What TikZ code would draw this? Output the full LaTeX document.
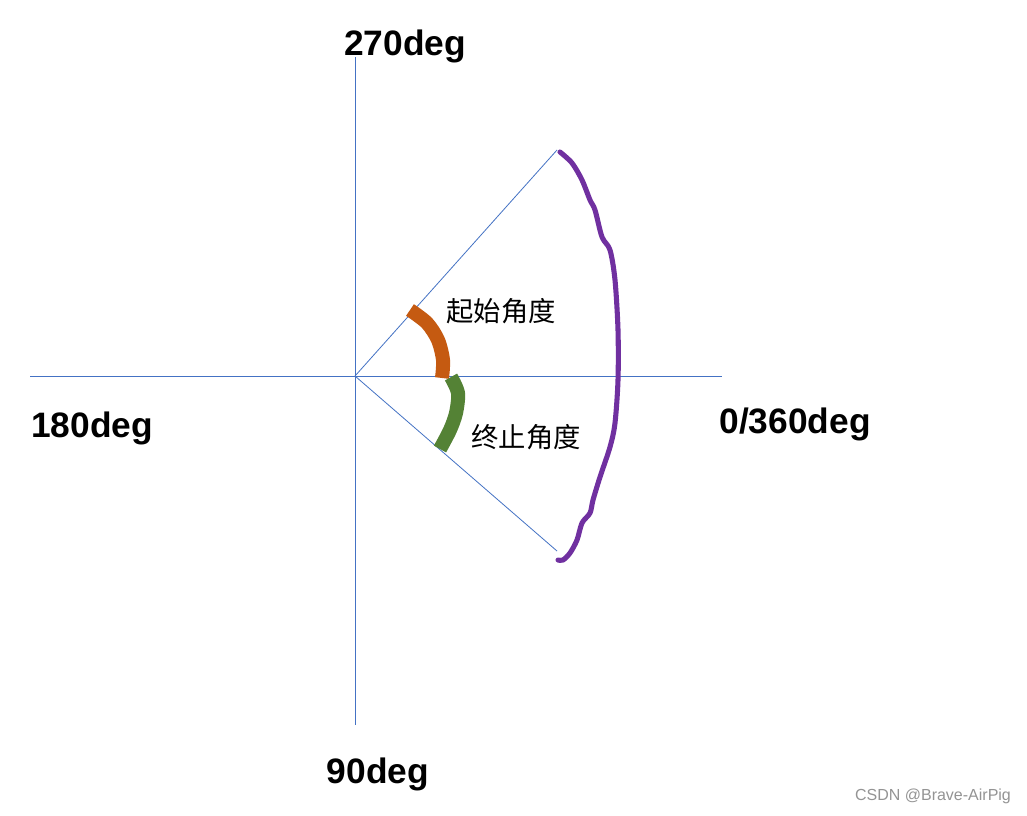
\documentclass[tikz,border=0pt]{standalone}
\usepackage{fontspec}
\setmainfont{Liberation Sans}
\newfontfamily\cjk{Noto Sans CJK SC}
\usepackage{tikz}

\definecolor{axisblue}{HTML}{4472C4}
\definecolor{startorange}{HTML}{C55A11}
\definecolor{endgreen}{HTML}{548235}
\definecolor{arcpurple}{HTML}{7030A0}

\tikzset{
  axis/.style={axisblue, line width=0.6pt},
  deglabel/.style={font=\fontsize{26.5}{30}\selectfont\bfseries, anchor=base, inner sep=0pt},
  anglabel/.style={font=\cjk\fontsize{20.5}{24}\selectfont, inner sep=0pt},
}

\begin{document}
\begin{tikzpicture}[x=0.75pt, y=-0.75pt]
\useasboundingbox[fill=white] (0,0) rectangle (1027,815);

% Axes
\coordinate (o) at (355,376);
\coordinate (xl) at (30,376);
\coordinate (xr) at (722,376);
\coordinate (yt) at (355,57);
\coordinate (yb) at (355,725);
\draw[axis] (xl) -- (xr);
\draw[axis] (yt) -- (yb);

% Sector edges
\coordinate (rt) at (557,150);
\coordinate (rb) at (557,551);
\draw[axis] (o) -- (rt);
\draw[axis] (o) -- (rb);

% Degree labels
\node[deglabel] (d270) at (405,55) {270deg};
\node[deglabel] (d180) at (92,437) {180deg};
\node[deglabel] (d0) at (795,433) {0/360deg};
\node[deglabel] (d90) at (378,783) {90deg};

% Start and end angle strokes
\draw[startorange, line width=10.5pt, line join=round] plot[smooth] coordinates
  {(410,310) (427,323) (438,340) (443,360) (442,378)};
\draw[endgreen, line width=10.5pt, line join=round] plot[smooth] coordinates
  {(451,377) (458,393) (456,413) (450,430) (440,449)};

\node[anglabel] (start) at (501,311) {起始角度};
\node[anglabel] (end) at (526,437) {终止角度};

% Outer arc
\draw[arcpurple, line width=3.8pt, line join=round, line cap=round] plot[smooth] coordinates
  {(560,152) (572,163) (582,180) (590,200) (595,210) (602,237) (610,250)
   (615,280) (618,330) (618,380) (615,423) (610,447) (600,477) (593,500)
   (590,513) (582,523) (577,540) (570,553) (563,560) (558,560)};

% Watermark
\node[font=\fontsize{12}{14}\selectfont, text=black!42, inner sep=0pt] (mark) at (933,796) {CSDN @Brave-AirPig};
\end{tikzpicture}
\end{document}
